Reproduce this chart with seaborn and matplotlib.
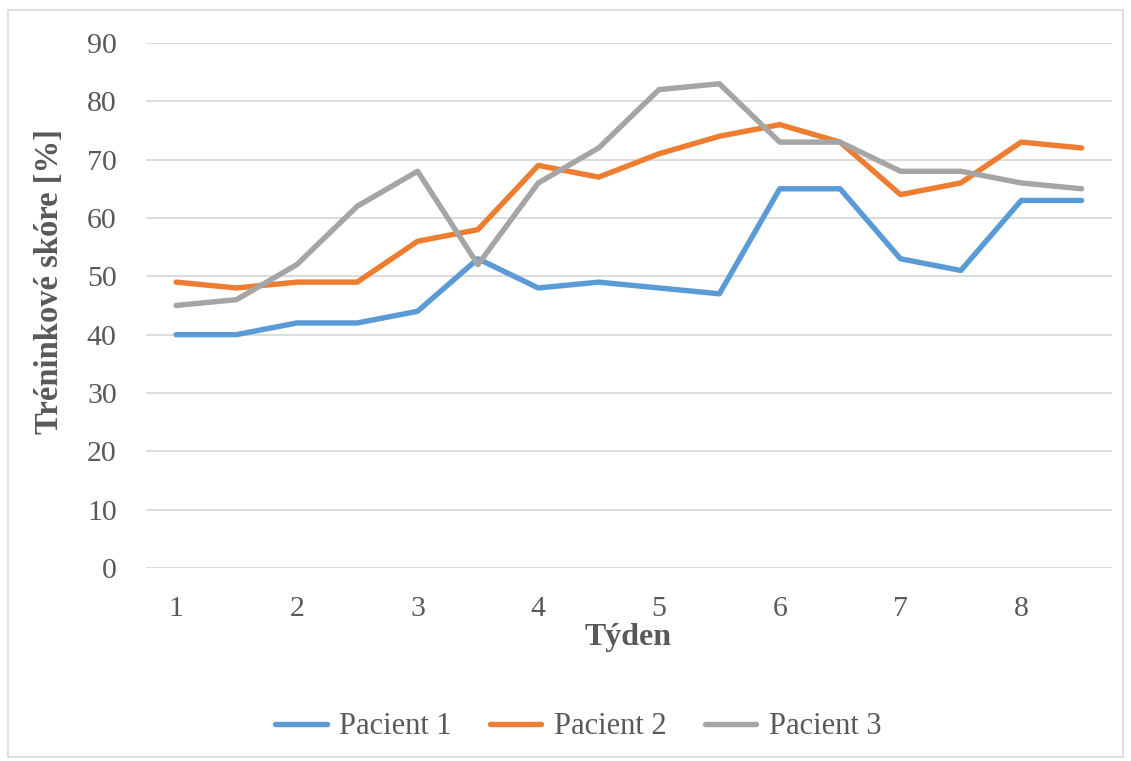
import pandas as pd
import matplotlib
matplotlib.use("Agg")
import matplotlib.pyplot as plt
import seaborn as sns

# weeks in half-week steps
tyden = [1, 1.5, 2, 2.5, 3, 3.5, 4, 4.5, 5, 5.5, 6, 6.5, 7, 7.5, 8, 8.5]
pacient1 = [40, 40, 42, 42, 44, 53, 48, 49, 48, 47, 65, 65, 53, 51, 63, 63]
pacient2 = [49, 48, 49, 49, 56, 58, 69, 67, 71, 74, 76, 73, 64, 66, 73, 72]
pacient3 = [45, 46, 52, 62, 68, 52, 66, 72, 82, 83, 73, 73, 68, 68, 66, 65]
jmena = ["Pacient 1", "Pacient 2", "Pacient 3"]
barvy = ["#5B9BD5", "#ED7D31", "#A5A5A5"]

df = pd.DataFrame({"Týden": tyden * 3,
                   "skore": pacient1 + pacient2 + pacient3,
                   "pacient": [j for j in jmena for _ in tyden]})

sns.set_style("white")
plt.rcParams["font.family"] = ["Liberation Serif", "DejaVu Serif"]
text_col = "#595959"

fig = plt.figure(figsize=(11.31, 7.61), dpi=100)
ax = fig.add_axes([0.129, 0.2536, 0.854, 0.69])

sns.lineplot(data=df, x="Týden", y="skore", hue="pacient", palette=barvy,
             linewidth=3.9, ax=ax, legend=True, solid_capstyle="round")

ax.set_xlim(0.75, 8.75)
ax.set_ylim(0, 90)
ax.set_xticks(range(1, 9))
ax.set_yticks(range(0, 91, 10))
ax.grid(axis="y", color="#D9D9D9", linewidth=1.3)
ax.set_axisbelow(True)
for s in ax.spines.values():
    s.set_visible(False)
ax.tick_params(axis="both", length=0, labelsize=21.5, colors=text_col)
ax.tick_params(axis="y", pad=21)
ax.tick_params(axis="x", pad=20)

ax.set_xlabel("Týden", fontsize=23, fontweight="bold", color=text_col)
ax.set_ylabel("Tréninkové skóre [%]", fontsize=23.5, fontweight="bold", color=text_col)
ax.xaxis.set_label_coords(0.4995, -0.133)
ax.yaxis.set_label_coords(-0.0994, 0.546)
ax.xaxis.label.set_va("center")
ax.yaxis.label.set_va("center")

handles, labels = ax.get_legend_handles_labels()
ax.legend(handles, labels, loc="center", bbox_to_anchor=(0.511, 0.045),
          bbox_transform=fig.transFigure, ncol=3, frameon=False,
          fontsize=22, labelcolor=text_col, handlelength=1.7,
          columnspacing=1.25, handletextpad=0.4)

# light border around the chart area
fig.patches.append(plt.Rectangle((0.007, 0.005), 0.986, 0.982, transform=fig.transFigure,
                                 fill=False, edgecolor="#D9D9D9", linewidth=1.2))

fig.savefig("out.png", dpi=100)
